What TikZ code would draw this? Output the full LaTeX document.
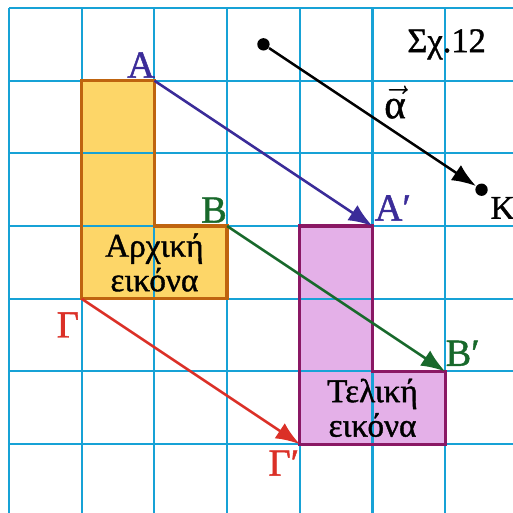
\documentclass[tikz,border=0pt]{standalone}
\usepackage{fontspec}
\setmainfont{Liberation Serif}
\newfontfamily\heavyfont{Liberation Serif}[FakeBold=1.2]
\usetikzlibrary{arrows.meta}
\definecolor{gridc}{HTML}{17A2D6}
\definecolor{origfill}{HTML}{FDD668}
\definecolor{origedge}{HTML}{BF640F}
\definecolor{imgfill}{HTML}{E4B0E8}
\definecolor{imgedge}{HTML}{8A1864}
\definecolor{cA}{HTML}{3B2C99}
\definecolor{cB}{HTML}{18692B}
\definecolor{cG}{HTML}{DB3027}
\tikzset{
  vecarrow/.style={line width=1pt, -{Latex[length=3.3mm,width=2.5mm]}},
  ptlabel/.style={font=\heavyfont\fontsize{15}{15}\selectfont, inner sep=0pt},
  boxtext/.style={font=\heavyfont\fontsize{13}{13.5}\selectfont, align=center, inner sep=0pt},
  gridline/.style={gridc, line width=0.8pt},
  shapeedge/.style={line width=1.3pt, line join=miter},
  dot/.style={circle, fill=black, inner sep=0pt, minimum size=0.17cm}
}
\begin{document}
\begin{tikzpicture}[x=1cm,y=1cm]
\useasboundingbox (-0.124,0.110) rectangle (6.933,-6.946);
\fill[white] (-0.124,0.110) rectangle (6.933,-6.946);
% fills
\fill[origfill] (1,-1) -- (2,-1) -- (2,-3) -- (3,-3) -- (3,-4) -- (1,-4) -- cycle;
\fill[imgfill] (4,-3) -- (5,-3) -- (5,-5) -- (6,-5) -- (6,-6) -- (4,-6) -- cycle;
% grid
\foreach \i in {0,...,6} {
  \draw[gridline] (\i,0) -- (\i,-6.946);
  \draw[gridline] (0,-\i) -- (6.933,-\i);
}
% borders
\draw[origedge, shapeedge] (1,-1) -- (2,-1) -- (2,-3) -- (3,-3) -- (3,-4) -- (1,-4) -- cycle;
\draw[imgedge, shapeedge] (4,-3) -- (5,-3) -- (5,-5) -- (6,-5) -- (6,-6) -- (4,-6) -- cycle;
% points
\coordinate (A) at (2,-1);
\coordinate (B) at (3,-3);
\coordinate (G) at (1,-4);
\coordinate (Ap) at (5,-3);
\coordinate (Bp) at (6,-5);
\coordinate (Gp) at (4,-6);
\node[dot] (S) at (3.5,-0.5) {};
\node[dot] (K) at (6.5,-2.5) {};
% arrows
\draw[vecarrow, cA] (A) -- (Ap);
\draw[vecarrow, cB] (B) -- (Bp);
\draw[vecarrow, cG] (G) -- (Gp);
\draw[vecarrow, black] (S) -- (K);
% labels
\node[ptlabel, cA] (lA) at (1.816,-0.784) {Α};
\node[ptlabel, cB] (lB) at (2.82,-2.78) {Β};
\node[ptlabel, cG] (lG) at (0.81,-4.36) {Γ};
\node[ptlabel, cA] (lAp) at (5.28,-2.75) {Α′};
\node[ptlabel, cB] (lBp) at (6.24,-4.75) {Β′};
\node[ptlabel, cG] (lGp) at (3.78,-6.26) {Γ′};
\node[font=\heavyfont\fontsize{13}{13}\selectfont, inner sep=0pt] (lK) at (6.79,-2.75) {Κ};
\node[font=\heavyfont\fontsize{16}{16}\selectfont, inner sep=0pt] (la) at (5.31,-1.3) {$\vec{\mbox{α}}$};
\node[font=\heavyfont\fontsize{13.5}{13.5}\selectfont, inner sep=0pt] (title) at (6.02,-0.5) {Σχ.12};
\node[boxtext] (t1) at (2,-3.5) {Αρχική\\εικόνα};
\node[boxtext] (t2) at (5,-5.5) {Τελική\\εικόνα};
\end{tikzpicture}
\end{document}
